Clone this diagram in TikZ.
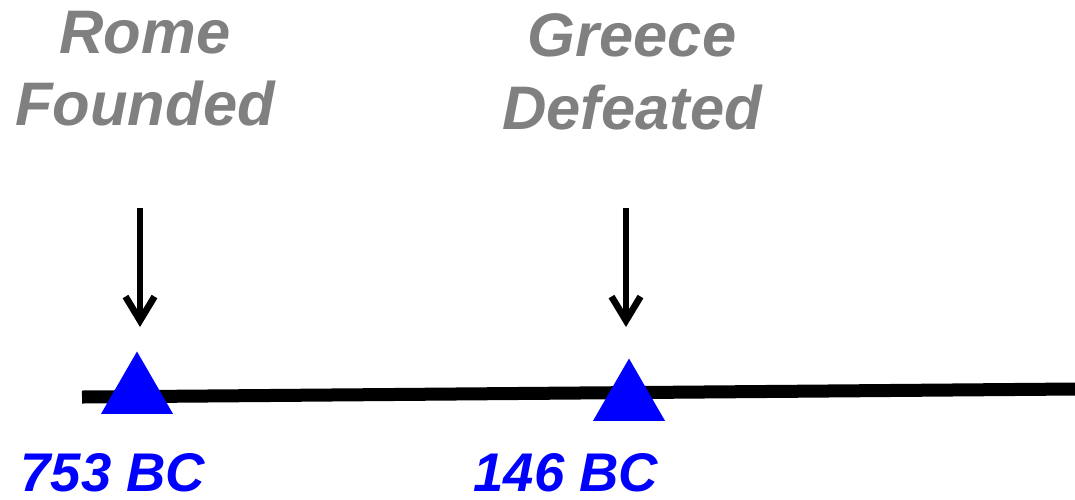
\documentclass[tikz,border=0pt]{standalone}
\usepackage{fontspec}
\setmainfont{Liberation Sans}
\usetikzlibrary{shapes.geometric}
\definecolor{eventgray}{RGB}{128,128,128}
\tikzset{
  event/.style={align=center, inner sep=0pt, anchor=north, text=eventgray,
    font=\fontsize{17.5}{20.6}\selectfont\bfseries\itshape},
  year/.style={inner sep=0pt, anchor=north, text=blue,
    font=\fontsize{15.5}{18}\selectfont\bfseries\itshape},
  marker/.style={regular polygon, regular polygon sides=3, minimum size=0.83cm,
    inner sep=0pt, fill=blue, draw=none},
  pointer/.style={line width=1.9pt, -{Straight Barb[length=2.4mm,width=2.9mm]}}
}
\usetikzlibrary{arrows.meta}
\begin{document}
\begin{tikzpicture}
        \useasboundingbox (0,0) rectangle (10.75,-4.99);
        \coordinate (start) at (0.82,-3.97);
        \coordinate (end) at (10.75,-3.89);
        \draw[line width=3.7pt] (start)--(end);
        \node[marker] (rometri) at (1.37,-3.93) {};
        \node[marker] (greecetri) at (6.29,-4.00) {};
        \node[event] (rome) at (1.45,-0.10) {Rome\\Founded};
        \node[event] (greece) at (6.32,-0.13) {Greece\\Defeated};
        \node[year] (romeyear) at (1.13,-4.53) {753 BC};
        \node[year] (greeceyear) at (5.66,-4.53) {146 BC};
        \coordinate (rometop) at (1.40,-2.08);
        \coordinate (greecetop) at (6.26,-2.08);
        \draw[pointer] (rometop)--(1.40,-3.27);
        \draw[pointer] (greecetop)--(6.26,-3.27);
      \end{tikzpicture}
\end{document}
